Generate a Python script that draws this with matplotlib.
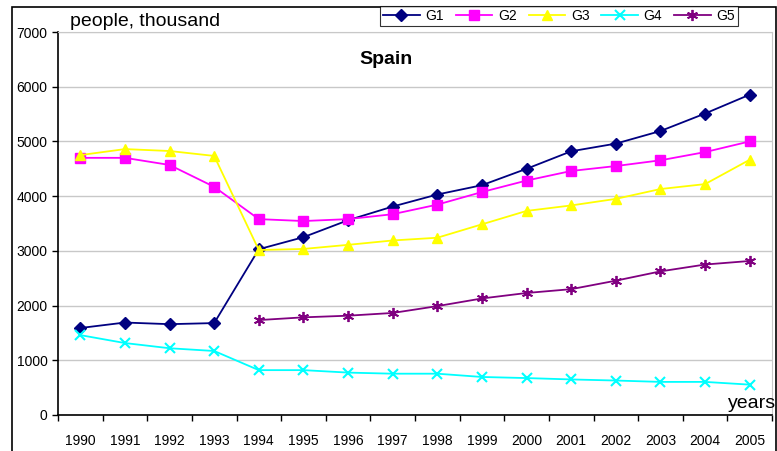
import matplotlib
matplotlib.use("Agg")
import matplotlib.pyplot as plt
from matplotlib.patches import Rectangle

plt.rcParams['font.family'] = ['Liberation Sans', 'DejaVu Sans']

years = [str(y) for y in range(1990, 2006)]
g1 = [1590, 1690, 1660, 1680, 3030, 3250, 3560, 3810, 4030, 4200, 4500, 4820, 4960, 5190, 5510, 5855]
g2 = [4700, 4700, 4570, 4170, 3580, 3545, 3580, 3670, 3845, 4075, 4285, 4460, 4550, 4655, 4805, 5000]
g3 = [4750, 4860, 4825, 4735, 3015, 3035, 3110, 3190, 3240, 3485, 3730, 3830, 3950, 4130, 4220, 4665]
g4 = [1460, 1315, 1220, 1170, 820, 820, 775, 755, 755, 695, 675, 650, 630, 605, 605, 555]
g5_years = years[4:]
g5 = [1735, 1785, 1815, 1865, 1990, 2130, 2230, 2300, 2455, 2625, 2750, 2815]

fig = plt.figure(figsize=(7.77, 4.51), dpi=100)
ax = fig.add_axes([58 / 777, 1 - 415 / 451, (772 - 58) / 777, (415 - 32) / 451])

x = list(range(len(years)))
x5 = [years.index(y) for y in g5_years]

ax.plot(x, g1, color='#000080', marker='D', markersize=6, lw=1.3, label='G1')
ax.plot(x, g2, color='#FF00FF', marker='s', markersize=6.5, lw=1.3, label='G2')
ax.plot(x, g3, color='#FFFF00', marker='^', markersize=7.5, lw=1.3, label='G3')
ax.plot(x, g4, color='#00FFFF', marker='x', markersize=7, mew=1.5, lw=1.3, label='G4')
ax.plot(x5, g5, color='#800080', marker=(6, 2, 0), markersize=8, mew=1.3, lw=1.3, label='G5')

ax.set_xlim(-0.5, len(years) - 0.5)
ax.set_ylim(0, 7000)
ax.set_yticks(range(0, 7001, 1000))
ax.set_xticks(x)
ax.set_xticklabels(years)
ax.set_xticks([i - 0.5 for i in range(len(years) + 1)], minor=True)
ax.tick_params(axis='x', which='major', length=0, pad=14, labelsize=10)
ax.tick_params(axis='x', which='minor', length=4, direction='out', width=1)
ax.tick_params(axis='y', length=4, width=1, labelsize=10)

ax.grid(axis='y', color='#C8C8C8', lw=1)
ax.set_axisbelow(True)
for s in ['top', 'right']:
    ax.spines[s].set_color('#C8C8C8')
for s in ['left', 'bottom']:
    ax.spines[s].set_color('black')
    ax.spines[s].set_linewidth(1.2)

fig.text(385.5 / 777, 1 - 60 / 451, 'Spain', fontsize=14, fontweight='bold', ha='center', va='center')
fig.text(70 / 777, 1 - 22 / 451, 'people, thousand', fontsize=14, ha='left', va='center')
fig.text(776 / 777, 1 - 404 / 451, 'years', fontsize=14, ha='right', va='center')

leg = fig.legend(loc='center', bbox_to_anchor=(559 / 777, 1 - 16 / 451), ncol=5, frameon=True,
                 fancybox=False, edgecolor='black', fontsize=10, handlelength=2.65, handletextpad=0.4,
                 columnspacing=0.85, borderpad=0.2, borderaxespad=0)
leg.get_frame().set_linewidth(0.8)

# outer chart frame
fig.patches.append(Rectangle((12 / 777, -0.01), (776 - 12) / 777, 1 - 7 / 451 + 0.01,
                             transform=fig.transFigure, fill=False, edgecolor='black', lw=1.2))

fig.savefig('out.png', dpi=100)
